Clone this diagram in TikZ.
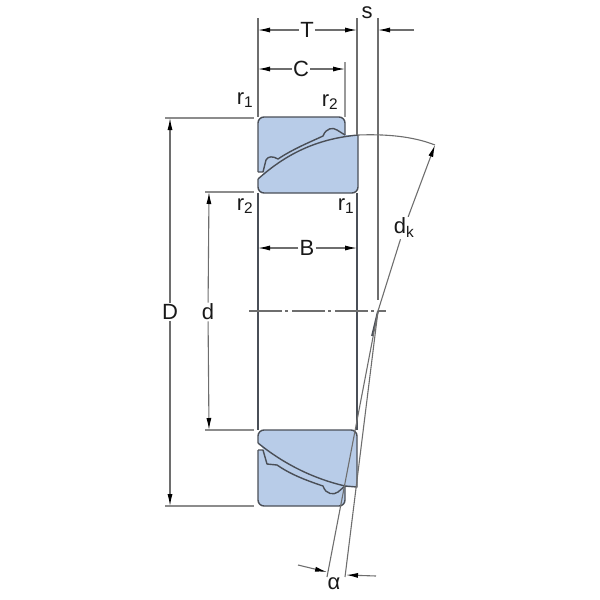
\documentclass[tikz,border=0pt]{standalone}
\usepackage{fontspec}
\setmainfont{Liberation Sans}
\usetikzlibrary{arrows.meta}
\definecolor{ringblue}{HTML}{B8CCE8}
\definecolor{edgegray}{HTML}{4A4F57}
\definecolor{linegray}{HTML}{6E6E6E}
\tikzset{
    lbl/.style={font=\fontsize{22}{26}\selectfont,inner sep=1pt,text=black!90},
    helpline/.style={linegray,line width=1.1pt},
    dimline/.style={linegray,line width=1.1pt,-{Latex[length=12pt,width=5pt,black]}},
    race/.style={edgegray,line width=1.4pt,line join=round}
}
\begin{document}
\begin{tikzpicture}[x=1pt,y=-1pt]
    \useasboundingbox (0,0) rectangle (600,600);

    %aros
    \fill[ringblue,rounded corners=6pt] (258,179) -- (258,117) -- (345,117) [sharp corners] -- (345,135) -- (358,135) [rounded corners=6pt] -- (358,193) -- (258,193) [sharp corners] -- cycle;
    \fill[ringblue,rounded corners=6pt] (258,443) -- (258,430) -- (357,430) [sharp corners] -- (357,487) -- (345,487) [rounded corners=6pt] -- (345,506) -- (258,506) [sharp corners] -- cycle;
    \fill[white] (258,172) -- (264,172) -- (262,175) -- (258,179) -- cycle;
    \fill[white] (258,443) -- (264,450) -- (258,450) -- cycle;

    %contornos
    \draw[race,rounded corners=6pt] (258,172) -- (258,117) -- (345,117) [sharp corners] -- (345,135);
    \draw[race,rounded corners=6pt] (358,135) -- (358,193) -- (258,193) [sharp corners] -- (258,179);
    \draw[race] (258,179) .. controls (285,155) and (315,139) .. (358,135);
    \draw[race] (258,172) -- (263,172) -- (266,160) .. controls (268,156) and (273,156) .. (278,159) .. controls (293,149) and (308,143) .. (323,136) .. controls (326,128) and (333,127) .. (337,130) -- (345,135);
    \draw[race,rounded corners=6pt] (258,443) -- (258,430) -- (357,430) [sharp corners] -- (357,487) -- (345,486);
    \draw[race,rounded corners=6pt] (258,450) -- (258,506) -- (345,506) [sharp corners] -- (345,486);
    \draw[race] (258,443) .. controls (285,465) and (315,479) .. (345,486);
    \draw[race] (258,450) -- (263,450) -- (267,464) -- (277,465) .. controls (290,474) and (305,480) .. (323,486) .. controls (326,495) and (334,495) .. (338,492) -- (345,486);

    %lineas de referencia
    \draw[helpline] (258,18) -- (258,117);
    \draw[helpline] (357,18) -- (357,135);
    \draw[helpline] (378,18) -- (378,300);
    \draw[helpline,black!40] (345,62) -- (345,117);
    \draw[edgegray,line width=1.2pt] (258,193) -- (258,430);
    \draw[edgegray,line width=1.2pt] (357,193) -- (357,430);
    \foreach \y/\xa in {118/165,506/165,192/205,430/205}
        \draw[helpline,black!45] (\xa,\y) -- (254,\y);
    \draw[helpline,dash pattern=on 33pt off 3pt on 3pt off 4pt] (249,311) -- (386,311);

    %cotas
    \node[lbl] (T) at (307,30) {T};
    \node[lbl] (C) at (301,69) {C};
    \node[lbl] (B) at (307,248) {B};
    \node[lbl] (D) at (170,312) {D};
    \node[lbl] (d) at (208,312) {d};
    \node[lbl] (s) at (367,13) {s};
    \node[lbl] (dk) at (404,228) {d\textsubscript{k}};
    \node[lbl] (alpha) at (334,584) {α};
    \node[lbl] at (245,100) {r\textsubscript{1}};
    \node[lbl] at (330,102) {r\textsubscript{2}};
    \node[lbl] at (245,206) {r\textsubscript{2}};
    \node[lbl] at (346,206) {r\textsubscript{1}};

    \coordinate (tl) at (258,30);
    \coordinate (tr) at (357,30);
    \coordinate (cl) at (258,69);
    \coordinate (cr) at (345,69);
    \coordinate (bl) at (258,248);
    \coordinate (br) at (357,248);
    \coordinate (Dtop) at (170,118);
    \coordinate (Dbot) at (170,506);
    \coordinate (dtop) at (209,192);
    \coordinate (dbot) at (209,430);
    \coordinate (stail) at (414,30);
    \coordinate (shead) at (378,30);
    \coordinate (atail) at (298,565);
    \coordinate (ahead) at (327,572);
    \coordinate (btail) at (376,576);
    \coordinate (bhead) at (346,575);
    \coordinate (apex) at (378,311);
    \coordinate (dkend) at (435,145);
    \coordinate (ringtip) at (358,135);

    \foreach \lab/\pta/\ptb in {T/tl/tr,C/cl/cr,B/bl/br,D/Dtop/Dbot,d/dtop/dbot}
    {
        \draw[dimline] (\lab) -- (\pta);
        \draw[dimline] (\lab) -- (\ptb);
    }
    \draw[dimline] (stail) -- (shead);
    \draw[dimline] (atail) -- (ahead);
    \draw[dimline] (btail) -- (bhead);
    \draw[dimline] (dk) -- (dkend);
    \draw[helpline] (dk) -- (apex);
    \draw[edgegray,line width=1.8pt] (apex) -- (372,336);

    %lineas de contacto
    \draw[helpline] (apex) -- (327,577);
    \draw[helpline] (apex) -- (345,577);
    \draw[helpline] (ringtip) .. controls (385,134) and (412,136) .. (dkend);
\end{tikzpicture}
\end{document}
